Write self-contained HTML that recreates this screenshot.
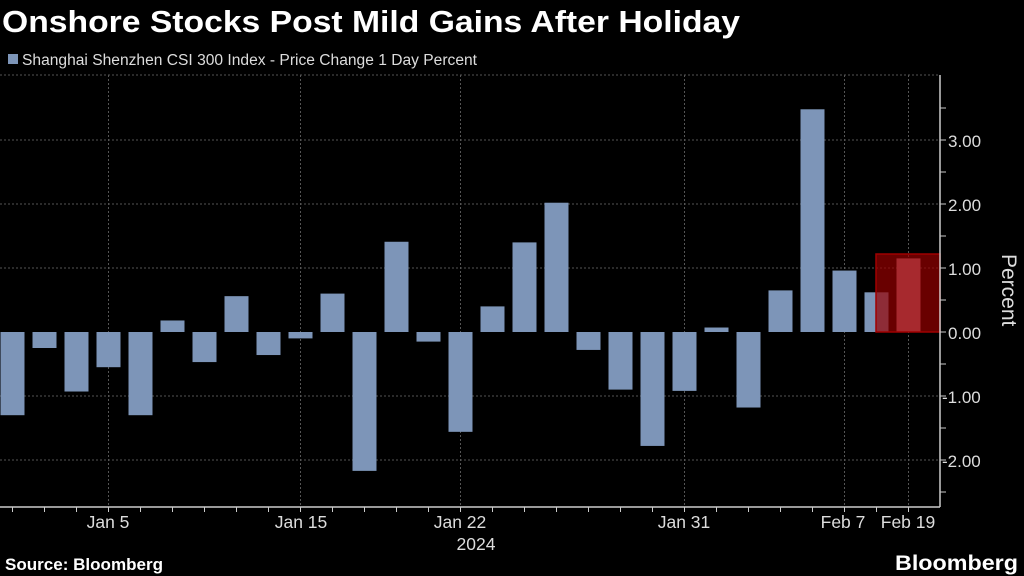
<!DOCTYPE html>
<html><head><meta charset="utf-8"><style>
body{margin:0;background:#000;width:1024px;height:576px;overflow:hidden;font-family:"Liberation Sans",sans-serif;}
</style></head><body>
<svg width="1024" height="576" xmlns="http://www.w3.org/2000/svg" style="position:absolute;left:0;top:0">
<text x="2" y="32" fill="#fff" font-size="31" font-weight="bold" font-family="Liberation Sans" textLength="738" lengthAdjust="spacingAndGlyphs">Onshore Stocks Post Mild Gains After Holiday</text>
<rect x="8" y="54" width="10" height="10" fill="#7d95b8"/>
<text x="22" y="65" fill="#ddd" font-size="15.5" textLength="455" lengthAdjust="spacingAndGlyphs">Shanghai Shenzhen CSI 300 Index - Price Change 1 Day Percent</text>
<g stroke="#555" stroke-dasharray="2,2" stroke-width="1">
<line x1="0" y1="75" x2="940" y2="75"/>
<line x1="0" y1="140" x2="940" y2="140"/>
<line x1="0" y1="204" x2="940" y2="204"/>
<line x1="0" y1="268" x2="940" y2="268"/>
<line x1="0" y1="396" x2="940" y2="396"/>
<line x1="0" y1="460" x2="940" y2="460"/>
<line x1="108.5" y1="75" x2="108.5" y2="507"/>
<line x1="300.5" y1="75" x2="300.5" y2="507"/>
<line x1="460.5" y1="75" x2="460.5" y2="507"/>
<line x1="684.5" y1="75" x2="684.5" y2="507"/>
<line x1="844.5" y1="75" x2="844.5" y2="507"/>
<line x1="908.5" y1="75" x2="908.5" y2="507"/>
</g>
<g id="bars" fill="#7d95b8"></g>
<rect x="876" y="254" width="64" height="78" fill="rgba(150,0,0,0.7)" stroke="#a00000" stroke-width="1.5"/>
<g stroke="#ccc" stroke-width="1.5">
<line x1="940" y1="75" x2="940" y2="507"/>
<line x1="0" y1="507" x2="940" y2="507"/>
</g>
<g id="ticks" stroke="#ccc" stroke-width="1"></g>
<g fill="#ddd" font-size="17">
<text x="948" y="147">3.00</text>
<text x="948" y="211">2.00</text>
<text x="948" y="275">1.00</text>
<text x="948" y="339">0.00</text>
<text x="942" y="403">-1.00</text>
<text x="942" y="467">-2.00</text>
<text transform="translate(1002,254) rotate(90)" font-size="21">Percent</text>
</g>
<g fill="#ddd" font-size="17.5" text-anchor="middle">
<text x="108" y="528">Jan 5</text>
<text x="301" y="528">Jan 15</text>
<text x="460" y="528">Jan 22</text>
<text x="476" y="550">2024</text>
<text x="684" y="528">Jan 31</text>
<text x="843" y="528">Feb 7</text>
<text x="908" y="528">Feb 19</text>
</g>
<text x="5" y="570" fill="#fff" font-size="16.5" font-weight="bold" textLength="158" lengthAdjust="spacingAndGlyphs">Source: Bloomberg</text>
<text x="895" y="570" fill="#fff" font-size="21" font-weight="bold" textLength="123" lengthAdjust="spacingAndGlyphs">Bloomberg</text>
<script>
var v=[-1.3,-0.25,-0.93,-0.55,-1.3,0.18,-0.47,0.56,-0.36,-0.1,0.6,-2.17,1.41,-0.15,-1.56,0.4,1.4,2.02,-0.28,-0.9,-1.78,-0.92,0.07,-1.18,0.65,3.48,0.96,0.62,1.15];
var g=document.getElementById('bars'),t=document.getElementById('ticks'),ns='http://www.w3.org/2000/svg';
v.forEach(function(d,i){var c=12.5+32*i,r=document.createElementNS(ns,'rect');var h=Math.abs(d)*64;
r.setAttribute('x',c-12);r.setAttribute('width',24);r.setAttribute('y',d>0?332-h:332);r.setAttribute('height',h);
if(i==28)r.setAttribute('fill','#d08a9a');g.appendChild(r);
var l=document.createElementNS(ns,'line');l.setAttribute('x1',c);l.setAttribute('x2',c);l.setAttribute('y1',507);l.setAttribute('y2',512);t.appendChild(l);});
[108,140,172,204,236,268,300,332,364,396,428,460,492].forEach(function(y){var l=document.createElementNS(ns,'line');l.setAttribute('x1',940);l.setAttribute('x2',946);l.setAttribute('y1',y);l.setAttribute('y2',y);t.appendChild(l);});
</script>
</svg>
</body></html>
